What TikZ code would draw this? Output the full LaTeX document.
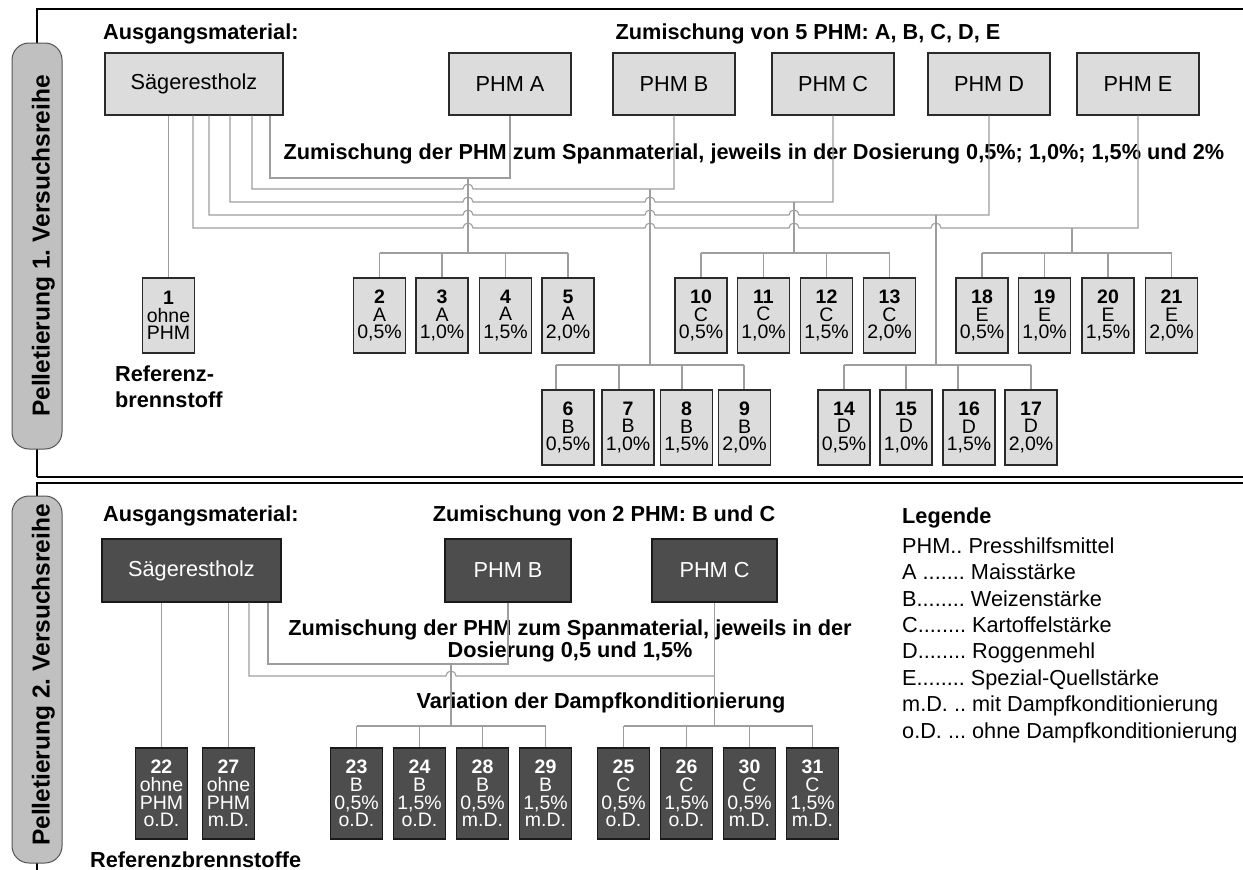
\documentclass[tikz,border=0pt]{standalone}
\usepackage{fontspec}
\setmainfont{Liberation Sans}
\frenchspacing
\newcommand\tightlines{\lineskiplimit=-40pt\relax\lineskip=0pt\relax}
\definecolor{boxfill}{HTML}{DCDCDC}
\definecolor{boxborder}{HTML}{2A2A2A}
\definecolor{darkfill}{HTML}{4D4D4D}
\definecolor{darkborder}{HTML}{1A1A1A}
\definecolor{labfill}{HTML}{C0C0C0}
\definecolor{labborder}{HTML}{555555}
\definecolor{congray}{HTML}{9E9E9E}
\tikzset{
 con/.style={draw=congray, line width=1.1pt},
 frm/.style={draw=black, line width=1.3pt},
 lab/.style={draw=labborder, fill=labfill, line width=1pt, rounded corners=17pt},
 labtxt/.style={font=\fontsize{24.5}{28}\selectfont\bfseries, rotate=90, anchor=base, inner sep=0},
 big/.style={draw=boxborder, fill=boxfill, line width=1.2pt, inner sep=0, minimum height=62pt, font=\fontsize{21.7}{26}\selectfont},
 sm/.style={draw=boxborder, fill=boxfill, line width=1.2pt, inner sep=0, minimum width=52pt, minimum height=75pt, align=center, font=\fontsize{19.5}{17.6}\selectfont\tightlines},
 dbig/.style={big, fill=darkfill, draw=darkborder, text=white},
 dsm/.style={sm, fill=darkfill, draw=darkborder, text=white, minimum height=91pt},
 ttl/.style={font=\fontsize{21.7}{26}\selectfont\bfseries, inner sep=0},
 leg/.style={font=\fontsize{21.7}{26}\selectfont, inner sep=0, anchor=base west},
}
\begin{document}
\begin{tikzpicture}[x=1pt,y=1pt]
\useasboundingbox (0,0) rectangle (1243,-870);
\fill[white] (0,0) rectangle (1243,-870);

% frames
\draw[frm] (37,-477) -- (37,-9) -- (1260,-9);
\draw[frm] (37,-477) -- (1260,-477);
\draw[frm] (37,-875) -- (37,-483) -- (1260,-483);

% side labels
\draw[lab] (12,-43) rectangle (62,-449);
\node[labtxt] (t1) at (49.5,-246) {Pelletierung 1. Versuchsreihe};
\draw[lab] (12,-496) rectangle (62,-863);
\node[labtxt] (t2) at (49.5,-675) {Pelletierung 2. Versuchsreihe};

% ===== 1. Versuchsreihe =====
\node[ttl, anchor=base west] (am1) at (103,-39) {Ausgangsmaterial:};
\node[ttl, anchor=base] (z5) at (808,-39) {Zumischung von 5 PHM: A, B, C, D, E};

\node[big, minimum width=178pt] (S1) at (194,-84) {Sägerestholz};
\node[big, minimum width=122pt] (pA) at (510,-84) {PHM A};
\node[big, minimum width=122pt] (pB) at (674,-84) {PHM B};
\node[big, minimum width=122pt] (pC) at (833,-84) {PHM C};
\node[big, minimum width=122pt] (pD) at (989,-84) {PHM D};
\node[big, minimum width=122pt] (pE) at (1138,-84) {PHM E};

\node[ttl, anchor=base] (zd1) at (754,-159) {Zumischung der PHM zum Spanmaterial, jeweils in der Dosierung 0,5\%; 1,0\%; 1,5\% und 2\%};

% small boxes row 1
\node[sm] (n1) at (168.5,-315.5) {\textbf{1}\\ohne\\PHM};
\node[sm] (n2) at (379.5,-315.5) {\textbf{2}\\A\\0,5\%};
\node[sm] (n3) at (442,-315.5) {\textbf{3}\\A\\1,0\%};
\node[sm] (n4) at (505.5,-315.5) {\textbf{4}\\A\\1,5\%};
\node[sm] (n5) at (568,-315.5) {\textbf{5}\\A\\2,0\%};
\node[sm] (n10) at (701,-315.5) {\textbf{10}\\C\\0,5\%};
\node[sm] (n11) at (763.5,-315.5) {\textbf{11}\\C\\1,0\%};
\node[sm] (n12) at (826.5,-315.5) {\textbf{12}\\C\\1,5\%};
\node[sm] (n13) at (889.5,-315.5) {\textbf{13}\\C\\2,0\%};
\node[sm] (n18) at (982,-315.5) {\textbf{18}\\E\\0,5\%};
\node[sm] (n19) at (1044.5,-315.5) {\textbf{19}\\E\\1,0\%};
\node[sm] (n20) at (1108,-315.5) {\textbf{20}\\E\\1,5\%};
\node[sm] (n21) at (1171.5,-315.5) {\textbf{21}\\E\\2,0\%};
% row 2
\node[sm] (n6) at (568,-427.5) {\textbf{6}\\B\\0,5\%};
\node[sm] (n7) at (628,-427.5) {\textbf{7}\\B\\1,0\%};
\node[sm] (n8) at (686.5,-427.5) {\textbf{8}\\B\\1,5\%};
\node[sm] (n9) at (744.5,-427.5) {\textbf{9}\\B\\2,0\%};
\node[sm] (n14) at (844,-427.5) {\textbf{14}\\D\\0,5\%};
\node[sm] (n15) at (906,-427.5) {\textbf{15}\\D\\1,0\%};
\node[sm] (n16) at (969,-427.5) {\textbf{16}\\D\\1,5\%};
\node[sm] (n17) at (1031,-427.5) {\textbf{17}\\D\\2,0\%};

\node[ttl, anchor=base west] (ref1a) at (115,-381) {Referenz-};
\node[ttl, anchor=base west] (ref1b) at (115,-407) {brennstoff};

% connectors row 1
\draw[con] (n1.north |- S1.south) -- (n1.north);
\draw[con] (S1.south -| 270,0) -- (270,-178) -- (pA.south |- 0,-178) -- (pA.south);
\draw[con] (S1.south -| 252,0) -- (252,-189) -- (463,-189)
  arc[start angle=180,end angle=0,radius=5] -- (pB.south |- 0,-189) -- (pB.south);
\draw[con] (S1.south -| 230,0) -- (230,-202) -- (463,-202)
  arc[start angle=180,end angle=0,radius=5] -- (645,-202)
  arc[start angle=180,end angle=0,radius=5] -- (pC.south |- 0,-202) -- (pC.south);
\draw[con] (S1.south -| 209,0) -- (209,-215) -- (463,-215)
  arc[start angle=180,end angle=0,radius=5] -- (645,-215)
  arc[start angle=180,end angle=0,radius=5] -- (789,-215)
  arc[start angle=180,end angle=0,radius=5] -- (pD.south |- 0,-215) -- (pD.south);
\draw[con] (S1.south -| 193,0) -- (193,-228) -- (463,-228)
  arc[start angle=180,end angle=0,radius=5] -- (645,-228)
  arc[start angle=180,end angle=0,radius=5] -- (789,-228)
  arc[start angle=180,end angle=0,radius=5] -- (931,-228)
  arc[start angle=180,end angle=0,radius=5] -- (pE.south |- 0,-228) -- (pE.south);

\coordinate (jA) at (468,-178);
\coordinate (jB) at (650,-189);
\coordinate (jC) at (794,-202);
\coordinate (jD) at (936,-215);
\coordinate (jE) at (1072,-228);
\draw[con] (jA) -- (jA |- 0,-253);
\draw[con] (jB) -- (jB |- 0,-365);
\draw[con] (jC) -- (jC |- 0,-253);
\draw[con] (jD) -- (jD |- 0,-365);
\draw[con] (jE) -- (jE |- 0,-253);

\draw[con] (n2.north |- 0,-253) -- (n5.north |- 0,-253);
\foreach \k in {2,3,4,5} \draw[con] (n\k.north |- 0,-253) -- (n\k.north);
\draw[con] (n10.north |- 0,-253) -- (n13.north |- 0,-253);
\foreach \k in {10,11,12,13} \draw[con] (n\k.north |- 0,-253) -- (n\k.north);
\draw[con] (n18.north |- 0,-253) -- (n21.north |- 0,-253);
\foreach \k in {18,19,20,21} \draw[con] (n\k.north |- 0,-253) -- (n\k.north);

\draw[con] (556,-365) -- (744,-365);
\draw[con] (556,-365) -- (n6.north -| 556,0);
\draw[con] (619,-365) -- (n7.north -| 619,0);
\draw[con] (682,-365) -- (n8.north -| 682,0);
\draw[con] (744,-365) -- (n9.north -| 744,0);
\draw[con] (n14.north |- 0,-365) -- (n17.north |- 0,-365);
\draw[con] (n14.north |- 0,-365) -- (n14.north);
\draw[con] (n15.north |- 0,-365) -- (n15.north);
\draw[con] (958,-365) -- (n16.north -| 958,0);
\draw[con] (n17.north |- 0,-365) -- (n17.north);

% ===== 2. Versuchsreihe =====
\node[ttl, anchor=base west] (am2) at (103,-521) {Ausgangsmaterial:};
\node[ttl, anchor=base] (z2) at (604,-521) {Zumischung von 2 PHM: B und C};

\node[dbig, minimum width=179pt, minimum height=63pt] (S2) at (191.5,-570.5) {Sägerestholz};
\node[dbig, minimum width=126pt, minimum height=63pt] (pB2) at (508,-570.5) {PHM B};
\node[dbig, minimum width=125pt, minimum height=63pt] (pC2) at (714.5,-570.5) {PHM C};

\node[ttl, anchor=base] (zb1) at (570,-635) {Zumischung der PHM zum Spanmaterial, jeweils in der};
\node[ttl, anchor=base] (zb2) at (570,-657) {Dosierung 0,5 und 1,5\%};
\node[ttl, anchor=base] (var) at (601,-708) {Variation der Dampfkonditionierung};

\node[dsm] (n22) at (161.5,-793.5) {\textbf{22}\\ohne\\PHM\\o.D.};
\node[dsm] (n27) at (228.5,-793.5) {\textbf{27}\\ohne\\PHM\\m.D.};
\node[dsm] (n23) at (356.5,-793.5) {\textbf{23}\\B\\0,5\%\\o.D.};
\node[dsm] (n24) at (419.5,-793.5) {\textbf{24}\\B\\1,5\%\\o.D.};
\node[dsm] (n28) at (482.5,-793.5) {\textbf{28}\\B\\0,5\%\\m.D.};
\node[dsm] (n29) at (545.5,-793.5) {\textbf{29}\\B\\1,5\%\\m.D.};
\node[dsm] (n25) at (623.5,-793.5) {\textbf{25}\\C\\0,5\%\\o.D.};
\node[dsm] (n26) at (686.5,-793.5) {\textbf{26}\\C\\1,5\%\\o.D.};
\node[dsm] (n30) at (749.5,-793.5) {\textbf{30}\\C\\0,5\%\\m.D.};
\node[dsm] (n31) at (812.5,-793.5) {\textbf{31}\\C\\1,5\%\\m.D.};

\node[ttl, anchor=base west] (ref2) at (90,-867) {Referenzbrennstoffe};

\draw[con] (n22.north |- S2.south) -- (n22.north);
\draw[con] (n27.north |- S2.south) -- (n27.north);
\draw[con] (S2.south -| 268,0) -- (268,-664) -- (pB2.south |- 0,-664) -- (pB2.south);
\draw[con] (S2.south -| 249,0) -- (249,-676) -- (446,-676)
  arc[start angle=180,end angle=0,radius=5] -- (pC2.south |- 0,-676);
\draw[con] (pC2.south) -- (pC2.south |- 0,-726);
\coordinate (jB2) at (451,-664);
\draw[con] (jB2) -- (jB2 |- 0,-726);
\draw[con] (n23.north |- 0,-726) -- (n29.north |- 0,-726);
\foreach \k in {23,24,28,29} \draw[con] (n\k.north |- 0,-726) -- (n\k.north);
\draw[con] (n25.north |- 0,-726) -- (n31.north |- 0,-726);
\foreach \k in {25,26,30,31} \draw[con] (n\k.north |- 0,-726) -- (n\k.north);

% legend
\node[ttl, anchor=base west] (lg) at (902,-523) {Legende};
\node[leg] (l1) at (902,-553.3) {PHM.. Presshilfsmittel};
\node[leg] (l2) at (902,-579.7) {A ....... Maisstärke};
\node[leg] (l3) at (902,-606.1) {B........ Weizenstärke};
\node[leg] (l4) at (902,-632.5) {C........ Kartoffelstärke};
\node[leg] (l5) at (902,-658.9) {D........ Roggenmehl};
\node[leg] (l6) at (902,-685.3) {E........ Spezial-Quellstärke};
\node[leg] (l7) at (902,-711.7) {m.D. .. mit Dampfkonditionierung};
\node[leg] (l8) at (902,-738.1) {o.D. ... ohne Dampfkonditionierung};
\end{tikzpicture}
\end{document}
